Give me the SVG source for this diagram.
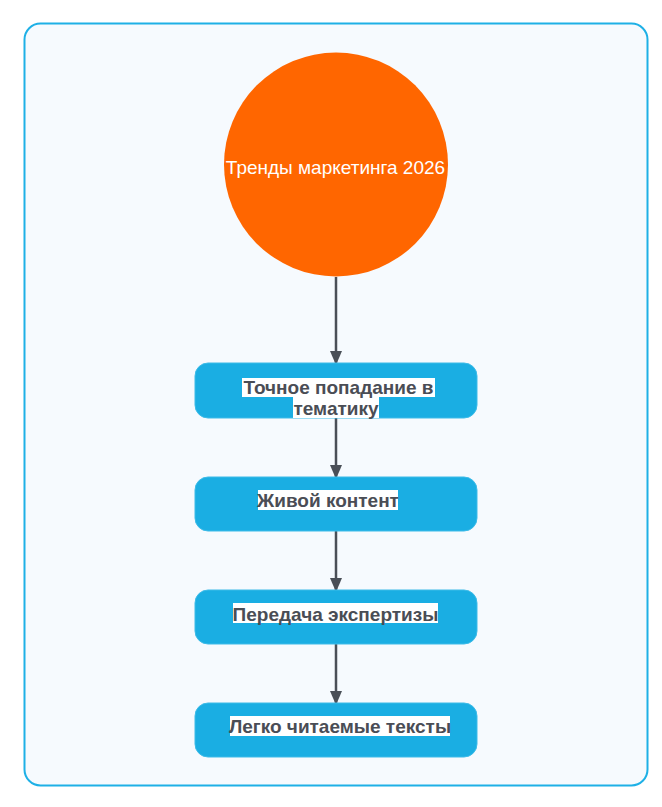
<svg xmlns="http://www.w3.org/2000/svg" width="662" height="807" viewBox="0 0 662 807">
<defs>
<marker id="arr" markerWidth="14" markerHeight="12" refX="13" refY="6" orient="auto" markerUnits="userSpaceOnUse">
<path d="M0,0 L14,6 L0,12 Z" fill="#4a4f57"/>
</marker>
<style>
.frame{fill:#f6fafe;stroke:#1eb0e6;stroke-width:2}
.box{fill:#1aaee3;stroke:#3cbbe8;stroke-width:1}
.lbl{font-family:"Liberation Sans",Arial,sans-serif;font-size:19px;font-weight:bold;fill:#4a4d55;text-anchor:middle}
.hl{fill:#ffffff}
.edge{stroke:#4a4f57;stroke-width:2.5;fill:none;marker-end:url(#arr)}
.ctext{font-family:"Liberation Sans",Arial,sans-serif;font-size:19px;fill:#ffffff;text-anchor:middle}
</style>
</defs>
<rect class="frame" x="24.5" y="23.5" width="623" height="762" rx="16"/>
<g id="connectors">
<line class="edge" x1="336" y1="277" x2="336" y2="364"/>
<line class="edge" x1="336" y1="418" x2="336" y2="478"/>
<line class="edge" x1="336" y1="531" x2="336" y2="591"/>
<line class="edge" x1="336" y1="644" x2="336" y2="704"/>
</g>
<g id="root">
<circle cx="336" cy="164.5" r="112" fill="#ff6600"/>
<text class="ctext" x="335.5" y="173.5">Тренды маркетинга 2026</text>
</g>
<g id="n1">
<rect class="box" x="195" y="363" width="282" height="55" rx="13"/>
<rect class="hl" x="242" y="378" width="193" height="19"/>
<rect class="hl" x="293" y="397" width="86" height="21"/>
<text class="lbl" x="338.5" y="393.5">Точное попадание в</text>
<text class="lbl" x="336" y="415">тематику</text>
</g>
<g id="n2">
<rect class="box" x="195" y="477" width="282" height="54" rx="13"/>
<rect class="hl" x="258" y="490" width="140" height="20"/>
<text class="lbl" x="328" y="507">Живой контент</text>
</g>
<g id="n3">
<rect class="box" x="195" y="590" width="282" height="54" rx="13"/>
<rect class="hl" x="233" y="603" width="205" height="20"/>
<text class="lbl" x="335.5" y="620.5">Передача экспертизы</text>
</g>
<g id="n4">
<rect class="box" x="195" y="703" width="282" height="54" rx="13"/>
<rect class="hl" x="230" y="716" width="220" height="20"/>
<text class="lbl" x="340" y="733">Легко читаемые тексты</text>
</g>
</svg>
